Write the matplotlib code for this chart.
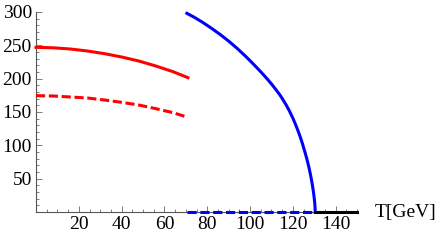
import numpy as np
import matplotlib
matplotlib.use("Agg")
import matplotlib.pyplot as plt
from matplotlib.ticker import MultipleLocator

# values
T_red = [0, 8, 16, 24, 32, 40, 48, 56, 64, 71]
v_red = [247, 246.3, 244.5, 241.5, 237.5, 232.5, 226.5, 219, 210.5, 201.5]
v_red_dash = [174.5, 174, 172.5, 171, 168, 164.5, 160.5, 155, 149, 142]

T_blue = [70.5, 74, 78, 82, 86, 90, 94, 98, 101, 104, 106.5, 108.6, 110.5,
          112, 114, 115.5, 117, 118.5, 120, 121, 122.3, 123.5, 124.6, 125.7,
          126.7, 127.5, 128.2, 128.8, 129.3, 129.7, 130.0, 130.3, 130.5]
v_blue = [298, 292, 284.2, 275.6, 266.4, 256.4, 245.4, 233.4, 223.8, 213.8,
          205.1, 197.5, 190.2, 184, 175.5, 168, 160, 151, 141, 133.5, 123,
          112.5, 101.5, 89.5, 78, 67.5, 57, 47, 37.5, 29, 21, 12, 0]

T_blue_dash = [70.5, 130.5]
v_blue_dash = [0, 0]
T_black = [130.5, 150]
v_black = [0, 0]

x_ticks = [20, 40, 60, 80, 100, 120, 140]
y_ticks = [50, 100, 150, 200, 250, 300]

plt.rcParams['font.family'] = ['Liberation Serif', 'DejaVu Serif']

fig = plt.figure(figsize=(4.4, 2.4), dpi=100)
ax = fig.add_axes([36 / 440, 28 / 240, 321 / 440, 200 / 240])

lw = 2.2
ax.plot(T_red, v_red, color='#ff0000', lw=lw, clip_on=False, zorder=3)
ax.plot(T_red, v_red_dash, color='#ff0000', lw=lw, dashes=(3, 1.2), clip_on=False, zorder=3)
ax.plot(T_blue, v_blue, color='#0000ff', lw=lw, clip_on=False, zorder=3)
ax.plot(T_blue_dash, v_blue_dash, color='#0000ff', lw=lw, dashes=(3, 1.2), clip_on=False, zorder=3)
ax.plot(T_black, v_black, color='black', lw=lw, clip_on=False, zorder=3)

ax.set_xlim(0, 150)
ax.set_ylim(0, 300)
ax.spines['top'].set_visible(False)
ax.spines['right'].set_visible(False)
for s in ['left', 'bottom']:
    ax.spines[s].set_color('#555555')
    ax.spines[s].set_linewidth(0.8)

ax.set_xticks(x_ticks)
ax.set_yticks(y_ticks)
ax.xaxis.set_minor_locator(MultipleLocator(5))
ax.yaxis.set_minor_locator(MultipleLocator(10))
ax.tick_params(which='both', direction='in', color='#666666', width=0.6,
               labelsize=14, labelcolor='black')
ax.tick_params(which='major', length=4, pad=3)
ax.tick_params(which='minor', length=2)

fig.text(375 / 440, 1 - 212 / 240, 'T[GeV]', fontsize=14, va='center', ha='left')

fig.savefig('out.png', dpi=100)
